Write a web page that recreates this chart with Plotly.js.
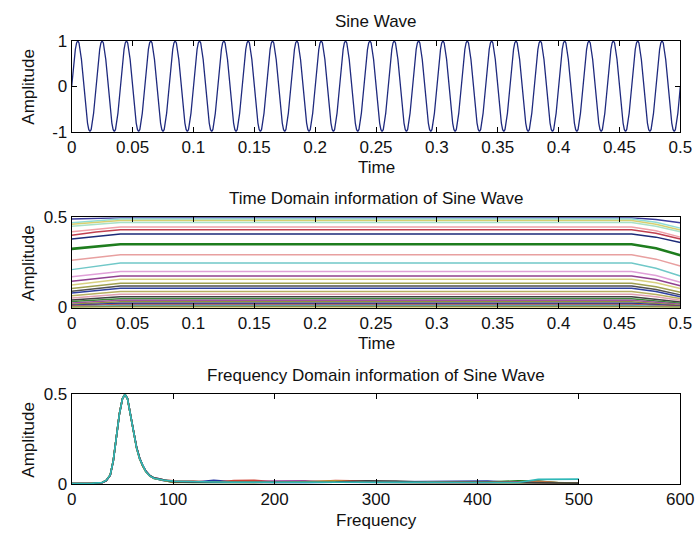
<!DOCTYPE html>
<html>
<head>
<meta charset="utf-8">
<script src="https://cdn.plot.ly/plotly-3.0.1.min.js"></script>
<style>
  html, body { margin: 0; padding: 0; background: #fff; }
  #fig { width: 697px; height: 536px; }
</style>
</head>
<body>
<div id="fig"></div>
<script>
// ---------- Panel 1: 50 Hz sine, sampled at 1 kHz over 0..0.5 s ----------
const sampleRate = 1000;
const sineVals = [
  0,.31,.59,.81,.95,1,.95,.81,.59,.31,0,-.31,-.59,-.81,-.95,-1,-.95,-.81,-.59,-.31,
  0,.31,.59,.81,.95,1,.95,.81,.59,.31,0,-.31,-.59,-.81,-.95,-1,-.95,-.81,-.59,-.31,
  0,.31,.59,.81,.95,1,.95,.81,.59,.31,0,-.31,-.59,-.81,-.95,-1,-.95,-.81,-.59,-.31,
  0,.31,.59,.81,.95,1,.95,.81,.59,.31,0,-.31,-.59,-.81,-.95,-1,-.95,-.81,-.59,-.31,
  0,.31,.59,.81,.95,1,.95,.81,.59,.31,0,-.31,-.59,-.81,-.95,-1,-.95,-.81,-.59,-.31,
  0,.31,.59,.81,.95,1,.95,.81,.59,.31,0,-.31,-.59,-.81,-.95,-1,-.95,-.81,-.59,-.31,
  0,.31,.59,.81,.95,1,.95,.81,.59,.31,0,-.31,-.59,-.81,-.95,-1,-.95,-.81,-.59,-.31,
  0,.31,.59,.81,.95,1,.95,.81,.59,.31,0,-.31,-.59,-.81,-.95,-1,-.95,-.81,-.59,-.31,
  0,.31,.59,.81,.95,1,.95,.81,.59,.31,0,-.31,-.59,-.81,-.95,-1,-.95,-.81,-.59,-.31,
  0,.31,.59,.81,.95,1,.95,.81,.59,.31,0,-.31,-.59,-.81,-.95,-1,-.95,-.81,-.59,-.31,
  0,.31,.59,.81,.95,1,.95,.81,.59,.31,0,-.31,-.59,-.81,-.95,-1,-.95,-.81,-.59,-.31,
  0,.31,.59,.81,.95,1,.95,.81,.59,.31,0,-.31,-.59,-.81,-.95,-1,-.95,-.81,-.59,-.31,
  0,.31,.59,.81,.95,1,.95,.81,.59,.31,0,-.31,-.59,-.81,-.95,-1,-.95,-.81,-.59,-.31,
  0,.31,.59,.81,.95,1,.95,.81,.59,.31,0,-.31,-.59,-.81,-.95,-1,-.95,-.81,-.59,-.31,
  0,.31,.59,.81,.95,1,.95,.81,.59,.31,0,-.31,-.59,-.81,-.95,-1,-.95,-.81,-.59,-.31,
  0,.31,.59,.81,.95,1,.95,.81,.59,.31,0,-.31,-.59,-.81,-.95,-1,-.95,-.81,-.59,-.31,
  0,.31,.59,.81,.95,1,.95,.81,.59,.31,0,-.31,-.59,-.81,-.95,-1,-.95,-.81,-.59,-.31,
  0,.31,.59,.81,.95,1,.95,.81,.59,.31,0,-.31,-.59,-.81,-.95,-1,-.95,-.81,-.59,-.31,
  0,.31,.59,.81,.95,1,.95,.81,.59,.31,0,-.31,-.59,-.81,-.95,-1,-.95,-.81,-.59,-.31,
  0,.31,.59,.81,.95,1,.95,.81,.59,.31,0,-.31,-.59,-.81,-.95,-1,-.95,-.81,-.59,-.31,
  0,.31,.59,.81,.95,1,.95,.81,.59,.31,0,-.31,-.59,-.81,-.95,-1,-.95,-.81,-.59,-.31,
  0,.31,.59,.81,.95,1,.95,.81,.59,.31,0,-.31,-.59,-.81,-.95,-1,-.95,-.81,-.59,-.31,
  0,.31,.59,.81,.95,1,.95,.81,.59,.31,0,-.31,-.59,-.81,-.95,-1,-.95,-.81,-.59,-.31,
  0,.31,.59,.81,.95,1,.95,.81,.59,.31,0,-.31,-.59,-.81,-.95,-1,-.95,-.81,-.59,-.31,
  0,.31,.59,.81,.95,1,.95,.81,.59,.31,0,-.31,-.59,-.81,-.95,-1,-.95,-.81,-.59,-.31,
  0
];
const ampTickVals = [-1, 0, 1];
const ampTickText = ['-1', '0', '1'];

// ---------- Panel 2: per-band levels over time ----------
// each band: flat level in the middle, ramping in at the start and out at the end
const edgeTimes = [0, 0.02, 0.04, 0.46, 0.48, 0.5];
const bandLevel = [0.497, 0.490, 0.482, 0.471, 0.446, 0.431, 0.408, 0.351, 0.292, 0.246,
                   0.199, 0.175, 0.157, 0.134, 0.119, 0.107, 0.088, 0.073, 0.060, 0.049,
                   0.040, 0.032, 0.024, 0.017, 0.011, 0.006, 0.002];
const bandStart = [0.490, 0.470, 0.462, 0.450, 0.420, 0.400, 0.380, 0.325, 0.262, 0.210,
                   0.170, 0.145, 0.125, 0.105, 0.090, 0.080, 0.065, 0.052, 0.042, 0.033,
                   0.025, 0.018, 0.012, 0.008, 0.004, 0.002, 0.001];
const bandInner = [0.494, 0.482, 0.474, 0.462, 0.435, 0.418, 0.396, 0.340, 0.279, 0.230,
                   0.186, 0.162, 0.143, 0.121, 0.106, 0.095, 0.078, 0.064, 0.052, 0.042,
                   0.033, 0.026, 0.019, 0.013, 0.008, 0.004, 0.002];
const bandOuter = [0.488, 0.472, 0.462, 0.450, 0.425, 0.412, 0.390, 0.328, 0.268, 0.218,
                   0.177, 0.155, 0.137, 0.115, 0.100, 0.089, 0.072, 0.059, 0.047, 0.038,
                   0.030, 0.023, 0.016, 0.011, 0.007, 0.003, 0.001];
const bandEnd   = [0.470, 0.440, 0.430, 0.420, 0.390, 0.380, 0.360, 0.290, 0.230, 0.175,
                   0.140, 0.120, 0.105, 0.085, 0.070, 0.060, 0.050, 0.040, 0.030, 0.024,
                   0.018, 0.012, 0.008, 0.005, 0.003, 0.001, 0.001];
const bandColor = ['#3a3a9a', '#8fdcd6', '#d8d070', '#a8e0c8', '#f0a0a8', '#c04050', '#1c2a78',
                   '#1e7d1e', '#e8a0a0', '#70c8c8', '#e0a0d8', '#904090', '#d8d080', '#a0a050',
                   '#505050', '#3040a0', '#b8b060', '#e0a0b0', '#404040', '#3a8a3a', '#a050a0',
                   '#909040', '#2a3a9a', '#c05050', '#60c0c0', '#505050', '#c0c040'];
const bandWidth = [1.5, 1.5, 1.5, 1.5, 1.5, 1.5, 1.5, 2.6, 1.5, 1.5, 1.5, 1.5, 1.5, 1.5,
                   1.5, 1.5, 1.5, 1.5, 1.5, 1.5, 1.5, 1.5, 1.5, 1.5, 1.5, 1.5, 1.5];

// ---------- Panel 3: magnitude spectra ----------
const freqHz = [0, 10, 20, 30, 34, 38, 41, 44, 47, 50, 52.5, 55, 58, 61, 64, 67, 70, 73, 77, 81, 85, 90,
                100, 120, 140, 160, 180, 200, 230, 260, 290, 320, 350, 380, 410, 440, 460, 480, 500];
const specBlue = [0.002, 0.002, 0.003, 0.007, 0.018, 0.048, 0.128, 0.258, 0.388, 0.474, 0.5, 0.478, 0.395, 0.295, 0.205, 0.145, 0.104, 0.073, 0.047, 0.033, 0.027, 0.020,
                  0.012, 0.010, 0.020, 0.012, 0.010, 0.008, 0.009, 0.010, 0.012, 0.014, 0.016, 0.017, 0.016, 0.008, 0.006, 0.005, 0.004];
const specGreen = [0.002, 0.002, 0.003, 0.008, 0.019, 0.050, 0.130, 0.260, 0.390, 0.475, 0.5, 0.476, 0.392, 0.292, 0.202, 0.142, 0.101, 0.071, 0.046, 0.031, 0.026, 0.021,
                   0.010, 0.009, 0.008, 0.010, 0.009, 0.011, 0.010, 0.009, 0.008, 0.010, 0.009, 0.010, 0.011, 0.018, 0.017, 0.006, 0.004];
const specRed = [0.003, 0.003, 0.004, 0.008, 0.020, 0.051, 0.131, 0.262, 0.392, 0.476, 0.5, 0.474, 0.388, 0.288, 0.198, 0.138, 0.099, 0.069, 0.044, 0.032, 0.029, 0.023,
                 0.018, 0.017, 0.010, 0.019, 0.020, 0.012, 0.011, 0.019, 0.016, 0.010, 0.009, 0.008, 0.009, 0.012, 0.015, 0.007, 0.006];
const specMagenta = [0.002, 0.002, 0.003, 0.007, 0.019, 0.049, 0.129, 0.259, 0.389, 0.475, 0.5, 0.477, 0.394, 0.294, 0.204, 0.143, 0.103, 0.072, 0.046, 0.034, 0.030, 0.022,
                     0.010, 0.012, 0.011, 0.009, 0.012, 0.016, 0.018, 0.010, 0.009, 0.008, 0.007, 0.008, 0.007, 0.009, 0.008, 0.006, 0.005];
const specYellow = [0.003, 0.003, 0.004, 0.008, 0.020, 0.050, 0.130, 0.261, 0.391, 0.476, 0.5, 0.475, 0.390, 0.290, 0.200, 0.141, 0.100, 0.070, 0.045, 0.033, 0.028, 0.021,
                    0.009, 0.011, 0.012, 0.010, 0.011, 0.010, 0.012, 0.017, 0.010, 0.009, 0.008, 0.007, 0.008, 0.007, 0.009, 0.006, 0.005];
const specGray = [0.002, 0.002, 0.003, 0.008, 0.019, 0.049, 0.130, 0.260, 0.390, 0.475, 0.5, 0.476, 0.393, 0.293, 0.203, 0.144, 0.102, 0.072, 0.047, 0.035, 0.031, 0.024,
                  0.011, 0.010, 0.009, 0.011, 0.010, 0.009, 0.010, 0.011, 0.018, 0.017, 0.010, 0.008, 0.007, 0.008, 0.007, 0.006, 0.005];
const specCyan = [0.003, 0.003, 0.004, 0.008, 0.020, 0.050, 0.130, 0.260, 0.390, 0.475, 0.5, 0.475, 0.390, 0.290, 0.200, 0.140, 0.100, 0.070, 0.045, 0.032, 0.028, 0.022,
                  0.016, 0.012, 0.011, 0.010, 0.009, 0.010, 0.009, 0.010, 0.011, 0.010, 0.009, 0.008, 0.007, 0.008, 0.026, 0.028, 0.027];
const spectra = [
  { name: 'blue', y: specBlue, color: '#2030a0' },
  { name: 'green', y: specGreen, color: '#208020' },
  { name: 'red', y: specRed, color: '#d04030' },
  { name: 'magenta', y: specMagenta, color: '#a040a0' },
  { name: 'yellow', y: specYellow, color: '#b0b030' },
  { name: 'gray', y: specGray, color: '#404040' },
  { name: 'cyan', y: specCyan, color: '#30b8b8' }
];

// ---------- figure geometry (pixels) ----------
const W = 697, H = 536;
const axLeft = 71.7, axRight = 680.3;
const panels = [
  { top: 40.7, bottom: 131.7, title: 'Sine Wave', xlabel: 'Time' },
  { top: 217.3, bottom: 307.5, title: 'Time Domain information of Sine Wave', xlabel: 'Time' },
  { top: 394.3, bottom: 484.0, title: 'Frequency Domain information of Sine Wave', xlabel: 'Frequency' }
];
const px = v => v / W;
const py = v => (H - v) / H;

const FONT = 'Liberation Sans, Arial, Helvetica, sans-serif';
const textColor = '#111';
const textSize = 17;

function axisBase(extra) {
  return Object.assign({
    ticks: 'inside', ticklen: 5, tickwidth: 1, tickcolor: '#000',
    showline: true, linecolor: '#000', linewidth: 1, mirror: 'ticks',
    showgrid: false, zeroline: false,
    tickfont: { family: FONT, size: textSize, color: textColor },
    fixedrange: true
  }, extra);
}

const traces = [];
traces.push({
  type: 'scatter', mode: 'lines', xaxis: 'x', yaxis: 'y',
  y: sineVals, x0: 0, dx: 1 / sampleRate,
  line: { color: '#1f2a7e', width: 1.3 }, hoverinfo: 'skip'
});
bandLevel.forEach((lvl, i) => {
  traces.push({
    type: 'scatter', mode: 'lines', xaxis: 'x2', yaxis: 'y2',
    x: edgeTimes, y: [bandStart[i], bandInner[i], lvl, lvl, bandOuter[i], bandEnd[i]],
    line: { color: bandColor[i], width: bandWidth[i] }, hoverinfo: 'skip'
  });
});
spectra.forEach(s => {
  traces.push({
    type: 'scatter', mode: 'lines', xaxis: 'x3', yaxis: 'y3',
    x: freqHz, y: s.y, name: s.name,
    line: { color: s.color, width: 1.6 }, hoverinfo: 'skip'
  });
});

const xDomain = [px(axLeft), px(axRight)];
const layout = {
  width: W, height: H,
  margin: { l: 0, r: 0, t: 0, b: 0 },
  paper_bgcolor: '#fff', plot_bgcolor: '#fff',
  showlegend: false,
  xaxis: axisBase({ domain: xDomain, anchor: 'y', range: [0, 0.5], dtick: 0.05, tick0: 0 }),
  yaxis: axisBase({ domain: [py(panels[0].bottom), py(panels[0].top)], anchor: 'x', range: [-1, 1],
                    tickmode: 'array', tickvals: ampTickVals, ticktext: ampTickText }),
  xaxis2: axisBase({ domain: xDomain, anchor: 'y2', range: [0, 0.5], dtick: 0.05, tick0: 0 }),
  yaxis2: axisBase({ domain: [py(panels[1].bottom), py(panels[1].top)], anchor: 'x2', range: [0, 0.5], dtick: 0.5 }),
  xaxis3: axisBase({ domain: xDomain, anchor: 'y3', range: [0, 600], dtick: 100 }),
  yaxis3: axisBase({ domain: [py(panels[2].bottom), py(panels[2].top)], anchor: 'x3', range: [0, 0.5], dtick: 0.5 }),
  annotations: []
};

const xc = px((axLeft + axRight) / 2);
panels.forEach(p => {
  layout.annotations.push({
    xref: 'paper', yref: 'paper', x: xc, y: py(p.top - 19), xanchor: 'center', yanchor: 'middle',
    text: p.title, showarrow: false, font: { family: FONT, size: textSize, color: textColor }
  });
  layout.annotations.push({
    xref: 'paper', yref: 'paper', x: xc, y: py(p.bottom + 36), xanchor: 'center', yanchor: 'middle',
    text: p.xlabel, showarrow: false, font: { family: FONT, size: textSize, color: textColor }
  });
  layout.annotations.push({
    xref: 'paper', yref: 'paper', x: px(28.5), y: py((p.top + p.bottom) / 2), xanchor: 'center', yanchor: 'middle',
    text: 'Amplitude', textangle: -90, showarrow: false, font: { family: FONT, size: textSize, color: textColor }
  });
});

Plotly.newPlot('fig', traces, layout, { staticPlot: true, displayModeBar: false });
</script>
</body>
</html>
